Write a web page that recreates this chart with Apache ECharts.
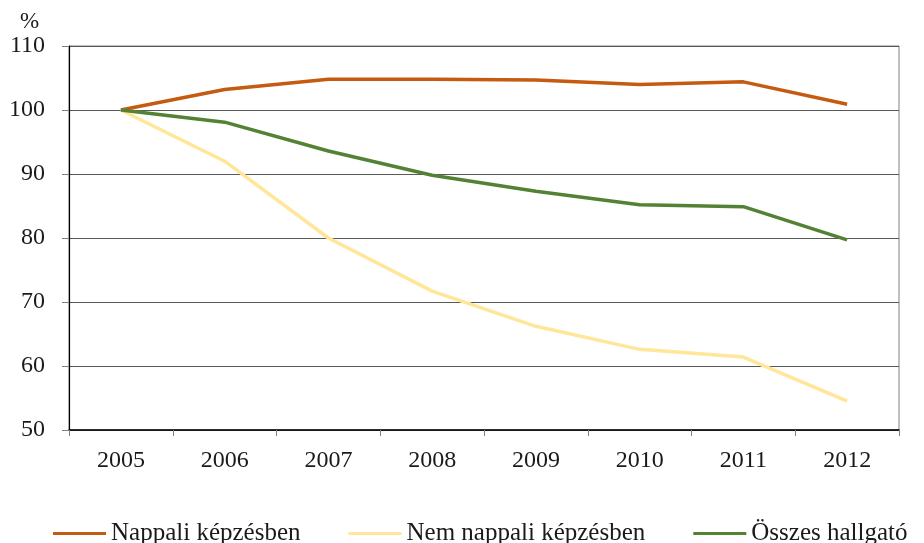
<!DOCTYPE html>
<html>
<head>
<meta charset="utf-8">
<script src="https://cdn.jsdelivr.net/npm/echarts@6/dist/echarts.min.js"></script>
<style>html,body{margin:0;padding:0;background:#fff}#c{width:924px;height:543px}</style>
</head>
<body>
<div id="c"></div>
<script>
var years = ['2005','2006','2007','2008','2009','2010','2011','2012'];
var nappali = [100, 103.2, 104.8, 104.8, 104.7, 104.0, 104.4, 100.9];
var nemNappali = [100, 92.0, 80.0, 71.7, 66.2, 62.6, 61.4, 54.5];
var osszes = [100, 98.1, 93.6, 89.8, 87.3, 85.2, 84.9, 79.7];
var seriesNames = ['Nappali képzésben', 'Nem nappali képzésben', 'Összes hallgató'];
var yTicks = {min: 50, max: 110, interval: 10};

var font = 'Liberation Serif';
var chart = echarts.init(document.getElementById('c'));
var colors = ['#C55A11', '#FFE699', '#548235'];
chart.setOption({
  animation: false,
  color: colors,
  textStyle: {fontFamily: font, color: '#1a1a1a'},
  title: {text: '%', left: 15, top: 5, textStyle: {fontFamily: font, fontSize: 23, fontWeight: 'normal', color: '#1a1a1a'}},
  grid: {left: 69, right: 25, top: 46, bottom: 113, show: true, borderColor: '#808080', borderWidth: 1},
  legend: {
    left: 48, top: 516, width: 876, icon: 'rect', itemWidth: 53, itemHeight: 3, itemGap: 48,
    textStyle: {fontFamily: font, fontSize: 25, color: '#1a1a1a'},
    data: seriesNames
  },
  xAxis: {
    type: 'category', data: years, boundaryGap: true,
    axisLine: {lineStyle: {color: '#000', width: 1.5}},
    axisTick: {show: true, length: 6, inside: false, lineStyle: {color: '#808080'}},
    axisLabel: {fontFamily: font, fontSize: 24, color: '#1a1a1a', margin: 19}
  },
  yAxis: {
    type: 'value', min: yTicks.min, max: yTicks.max, interval: yTicks.interval,
    axisLine: {show: true, lineStyle: {color: '#000', width: 1.2}},
    axisTick: {show: true, length: 7, lineStyle: {color: '#808080'}},
    axisLabel: {fontFamily: font, fontSize: 24, color: '#1a1a1a', margin: 24},
    splitLine: {lineStyle: {color: '#595959', width: 1}}
  },
  series: [
    {name: seriesNames[0], type: 'line', data: nappali, symbol: 'none', lineStyle: {width: 3.5, color: colors[0]}},
    {name: seriesNames[1], type: 'line', data: nemNappali, symbol: 'none', lineStyle: {width: 3.5, color: colors[1]}},
    {name: seriesNames[2], type: 'line', data: osszes, symbol: 'none', lineStyle: {width: 3.5, color: colors[2]}}
  ]
});
</script>
</body>
</html>
